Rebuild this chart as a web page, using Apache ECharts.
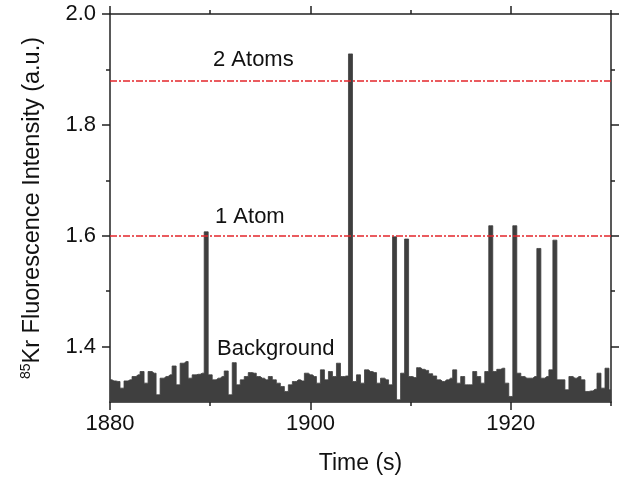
<!DOCTYPE html>
<html><head><meta charset="utf-8">
<script src="https://cdn.jsdelivr.net/npm/echarts@6/dist/echarts.min.js"></script>
<style>html,body{margin:0;padding:0;background:#fff}#c{width:623px;height:482px}</style>
</head><body><div id="c"></div>
<script>
// Histogram bins: 0.4 s wide, centered at binStart + i*binWidth
const binStart = 1880;
const binWidth = 0.4;
const intensity = [
  1.340,1.338,1.337,1.325,1.338,1.340,1.346,1.349,1.355,1.334,
  1.355,1.352,1.313,1.343,1.346,1.349,1.365,1.331,1.370,1.373,
  1.343,1.349,1.350,1.352,1.607,1.349,1.340,1.343,1.346,1.356,
  1.313,1.371,1.331,1.340,1.346,1.353,1.352,1.346,1.343,1.340,
  1.346,1.340,1.334,1.328,1.319,1.331,1.337,1.340,1.338,1.352,
  1.349,1.346,1.334,1.358,1.340,1.355,1.346,1.370,1.346,1.347,
  1.928,1.337,1.349,1.334,1.358,1.355,1.353,1.334,1.343,1.340,
  1.331,1.598,1.304,1.352,1.594,1.346,1.344,1.362,1.359,1.357,
  1.351,1.347,1.340,1.337,1.340,1.343,1.358,1.334,1.346,1.331,
  1.331,1.355,1.346,1.334,1.355,1.618,1.355,1.359,1.361,1.334,
  1.310,1.618,1.352,1.346,1.343,1.343,1.346,1.577,1.343,1.346,
  1.358,1.592,1.340,1.340,1.322,1.346,1.343,1.346,1.340,1.319,
  1.320,1.323,1.352,1.325,1.361,1.322
];
const atomLevels = [1.6, 1.88];
const xMajorTicks = [1880, 1900, 1920];
const xMinorTicks = [1890, 1910, 1930];
const yMajorTicks = [1.4, 1.6, 1.8, 2.0];
const yMinorTicks = [1.5, 1.7, 1.9];
const annotationTexts = ['2 Atoms', '1 Atom', 'Background'];

const FONT = "'Liberation Sans', Arial, sans-serif";
const AX = '#222';
const times = intensity.map((v, i) => +(binStart + i * binWidth).toFixed(2));
const seriesData = times.map((t, i) => [t, intensity[i]]);

function xAxisDef(pos, ticks, len, showLine, showLabel, extra) {
  return Object.assign({
    type: 'value', min: 1880, max: 1930, position: pos,
    axisLine: {show: showLine, onZero: false, lineStyle: {color: AX, width: 1.5}},
    axisTick: {show: true, customValues: ticks, length: len, inside: false, lineStyle: {color: AX, width: 1.5}},
    axisLabel: {show: showLabel, customValues: ticks, fontSize: 22, color: '#111', fontFamily: FONT, margin: 11,
      formatter: v => String(Math.round(v))},
    splitLine: {show: false}
  }, extra || {});
}
function yAxisDef(pos, ticks, len, showLine, showLabel, extra) {
  return Object.assign({
    type: 'value', min: 1.3, max: 2.0, position: pos,
    axisLine: {show: showLine, onZero: false, lineStyle: {color: AX, width: 1.5}},
    axisTick: {show: true, customValues: ticks, length: len, inside: false, lineStyle: {color: AX, width: 1.5}},
    axisLabel: {show: showLabel, customValues: ticks, fontSize: 22, color: '#111', fontFamily: FONT, margin: 14,
      formatter: v => Number(v).toFixed(1)},
    splitLine: {show: false}
  }, extra || {});
}

const chart = echarts.init(document.getElementById('c'), null, {renderer: 'canvas'});
chart.setOption({
  animation: false,
  grid: {left: 110, right: 12, top: 14, bottom: 80, containLabel: false},
  xAxis: [
    xAxisDef('bottom', xMajorTicks, 8, true, true, {
      name: 'Time (s)', nameLocation: 'middle', nameGap: 50,
      nameTextStyle: {fontSize: 23, color: '#111', fontFamily: FONT}
    }),
    xAxisDef('bottom', xMinorTicks, 4, false, false),
    xAxisDef('top', xMajorTicks, 8, true, false),
    xAxisDef('top', xMinorTicks, 4, false, false)
  ],
  yAxis: [
    yAxisDef('left', yMajorTicks, 8, true, true, {
      name: '{s|85}{n|Kr Fluorescence Intensity (a.u.)}', nameLocation: 'middle', nameGap: 63,
      nameTextStyle: {color: '#111', fontFamily: FONT, rich: {
        s: {fontSize: 14, fontFamily: FONT, color: '#111', padding: [0, 0, 14, 0]},
        n: {fontSize: 23.5, fontFamily: FONT, color: '#111'}
      }}
    }),
    yAxisDef('left', yMinorTicks, 4, false, false),
    yAxisDef('right', yMajorTicks, 8, true, false),
    yAxisDef('right', yMinorTicks, 4, false, false)
  ],
  series: [{
    type: 'line', xAxisIndex: 0, yAxisIndex: 0,
    data: seriesData, step: 'middle', symbol: 'none', clip: true,
    lineStyle: {width: 0.8, color: '#3f3f3f'},
    areaStyle: {color: '#3f3f3f', opacity: 1, origin: 'start'},
    markLine: {
      silent: true, symbol: ['none', 'none'], label: {show: false},
      lineStyle: {color: '#e3262b', width: 1.5, type: [7, 2, 2, 2]},
      data: atomLevels.map(v => ({yAxis: v}))
    }
  }],
  graphic: [
    {type: 'text', x: 213, y: 60, style: {text: annotationTexts[0], fontSize: 22, fontFamily: FONT, fill: '#111', verticalAlign: 'middle'}},
    {type: 'text', x: 215, y: 217, style: {text: annotationTexts[1], fontSize: 22, fontFamily: FONT, fill: '#111', verticalAlign: 'middle'}},
    {type: 'text', x: 217, y: 349, style: {text: annotationTexts[2], fontSize: 22, fontFamily: FONT, fill: '#111', verticalAlign: 'middle'}}
  ]
});
</script></body></html>
